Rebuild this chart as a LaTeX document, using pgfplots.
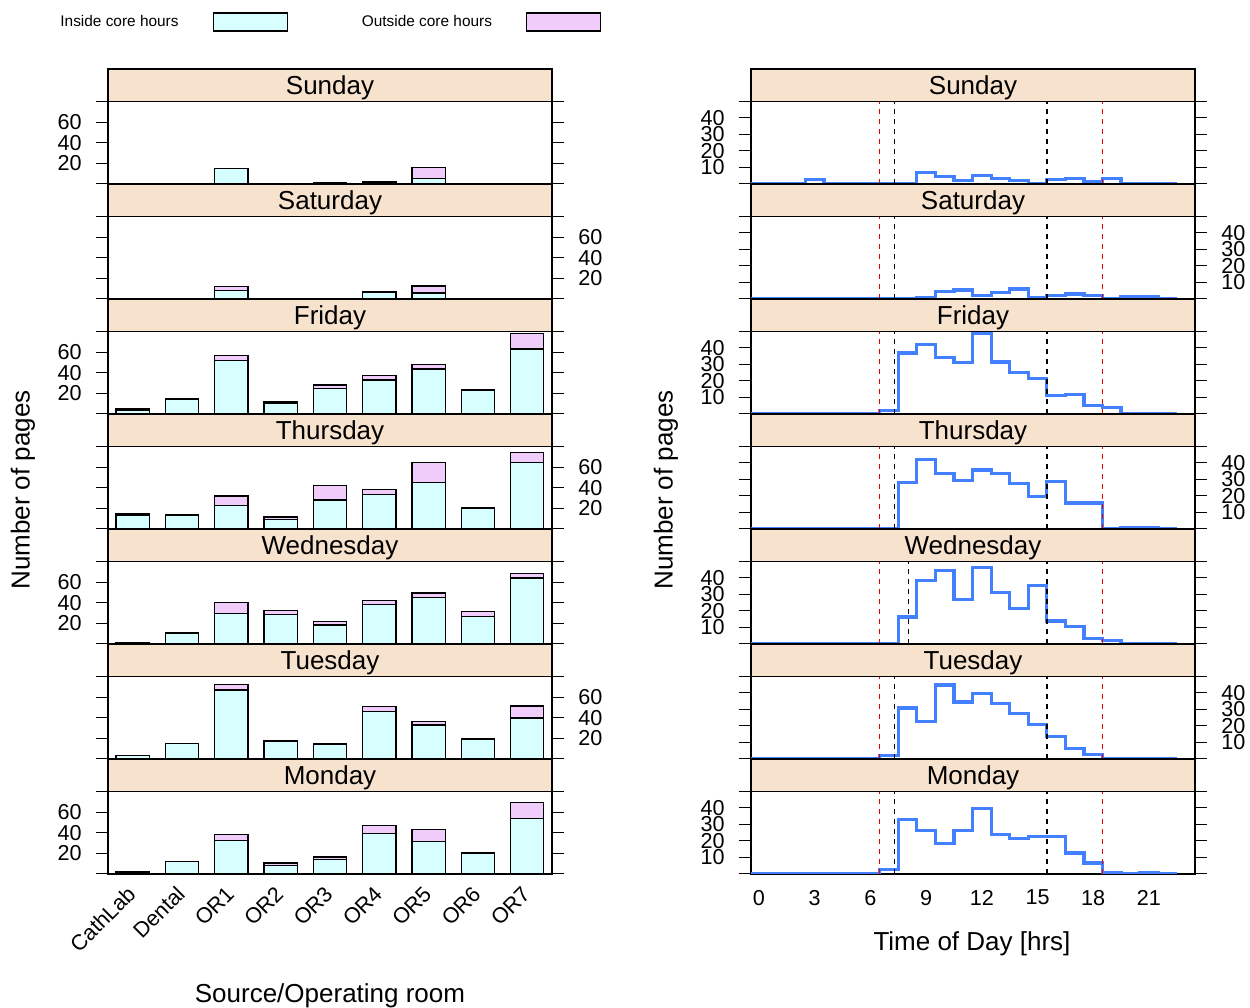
\documentclass[border=0pt]{standalone}
\usepackage{pgfplots}
\pgfplotsset{compat=1.18}
\usepackage{fontspec}
\setmainfont{Liberation Sans}
\definecolor{incol}{RGB}{215,255,255}
\definecolor{outcol}{RGB}{240,204,250}
\definecolor{stripcol}{RGB}{247,227,205}
\definecolor{lineblue}{RGB}{66,128,255}
\definecolor{vredcol}{RGB}{235,0,0}
\newcommand\tickfont{\fontsize{10.8}{12}\selectfont}
\newcommand\stripfont{\fontsize{13}{15}\selectfont}
\pgfplotsset{
 panel/.style={scale only axis, width=222pt, height=41.25pt, anchor=south west,
   axis line style={line width=0.7pt},
   every tick/.style={black, line width=0.5pt},
   tick align=outside, major tick length=6pt,
   xtick=\empty, ytick pos=both,
   /pgf/number format/assume math mode=true,
   tick label style={font=\tickfont},
   yticklabel style={inner xsep=7pt, inner ysep=0pt}},
 leftp/.style={panel, xmin=0.5, xmax=9.5, ymin=0, ymax=80,
   ytick={0,20,40,60,80}, yticklabels={{},20,40,60,{}}, ybar stacked, bar width=0.67},
 rightp/.style={panel, xmin=-0.43, xmax=23.48, ymin=0, ymax=50,
   ytick={0,10,20,30,40,50}, yticklabels={{},10,20,30,40,{}}},
 inbar/.style={fill=incol, draw=black, line width=0.65pt},
 outbar/.style={fill=outcol, draw=black, line width=0.65pt},
 stepl/.style={const plot mark left, mark=none, color=lineblue, line width=1.6pt},
 vred/.style={color=vredcol, dash pattern=on 2.5pt off 2.5pt, line width=0.8pt},
 vblk/.style={color=black, dash pattern=on 2.5pt off 2.5pt, line width=0.8pt},
 legimg/.style={legend image code/.code={\draw[##1,/tikz/.cd] (0pt,-4.5pt) rectangle (37pt,4.5pt);}},
}
\newcommand\strip[3]{% x, bottom y, text
  \draw[fill=stripcol, line width=0.7pt] (#1pt,#2pt) rectangle ++(222pt,16.25pt);
  \node[font=\stripfont, inner sep=0pt] at ([shift={(111pt,7.1pt)}]#1pt,#2pt) {#3};}
\begin{document}
\begin{tikzpicture}
\useasboundingbox (0,0) rectangle (625pt,504pt);
% ================= LEFT: bars =================
% Sunday
\begin{axis}[leftp, at={(54pt,412pt)}, yticklabel pos=left,
  legend style={at={(axis description cs:-0.108,1.964)}, anchor=west, draw=none, fill=none,
    legend columns=2, font=\fontsize{7.7}{9}\selectfont, inner sep=0pt,
    nodes={inner sep=0pt},
    /tikz/every odd column/.append style={column sep=17pt},
    /tikz/every even column/.append style={column sep=37pt}},
  legend plot pos=right]
\addplot[inbar, legimg] coordinates {(1,0) (2,0) (3,15) (4,0) (5,0.7) (6,1.3) (7,5.5) (8,0) (9,0)};
\addlegendentry{Inside core hours}
\addplot[outbar, legimg] coordinates {(1,0) (2,0) (3,0) (4,0) (5,0.6) (6,1) (7,10.5) (8,0) (9,0)};
\addlegendentry{Outside core hours}
\end{axis}
% Saturday
\begin{axis}[leftp, at={(54pt,354.5pt)}, yticklabel pos=right]
\addplot[inbar] coordinates {(1,0) (2,0) (3,8) (4,0) (5,0) (6,6.8) (7,5.9) (8,0) (9,0)};
\addplot[outbar] coordinates {(1,0) (2,0) (3,4) (4,0) (5,0) (6,0) (7,6.8) (8,0) (9,0)};
\end{axis}
% Friday
\begin{axis}[leftp, at={(54pt,297pt)}, yticklabel pos=left]
\addplot[inbar] coordinates {(1,4) (2,14.5) (3,52) (4,10.5) (5,24.5) (6,33) (7,43.5) (8,22.5) (9,63)};
\addplot[outbar] coordinates {(1,1.5) (2,0) (3,4.5) (4,1) (5,3.5) (6,4) (7,4.5) (8,1) (9,15)};
\end{axis}
% Thursday
\begin{axis}[leftp, at={(54pt,239.5pt)}, yticklabel pos=right]
\addplot[inbar] coordinates {(1,13.5) (2,13.7) (3,23) (4,9.5) (5,28) (6,33.5) (7,45) (8,20) (9,64.5)};
\addplot[outbar] coordinates {(1,1.2) (2,0) (3,9) (4,2) (5,14) (6,4.5) (7,19.5) (8,1) (9,10)};
\end{axis}
% Wednesday
\begin{axis}[leftp, at={(54pt,182pt)}, yticklabel pos=left]
\addplot[inbar] coordinates {(1,1) (2,10.7) (3,29.5) (4,28.3) (5,18.5) (6,38.5) (7,45) (8,26.7) (9,64)};
\addplot[outbar] coordinates {(1,0.6) (2,0) (3,11) (4,4) (5,3.5) (6,4) (7,4.5) (8,4.5) (9,4.5)};
\end{axis}
% Tuesday
\begin{axis}[leftp, at={(54pt,124.5pt)}, yticklabel pos=right]
\addplot[inbar] coordinates {(1,3.5) (2,15) (3,67) (4,16.8) (5,14.6) (6,46) (7,33) (8,19.5) (9,39.7)};
\addplot[outbar] coordinates {(1,0) (2,0) (3,5) (4,1) (5,0) (6,5) (7,3.3) (8,0) (9,11.7)};
\end{axis}
% Monday
\begin{axis}[leftp, at={(54pt,67pt)}, yticklabel pos=left,
  xtick={1,2,3,4,5,6,7,8,9},
  xticklabels={CathLab,Dental,OR1,OR2,OR3,OR4,OR5,OR6,OR7},
  xtick style={draw=none},
  xticklabel style={xshift=-0.5pt, yshift=-2pt, rotate=45, anchor=east, inner sep=0pt}]
\addplot[inbar] coordinates {(1,1.2) (2,12.4) (3,32.5) (4,8) (5,14.3) (6,39.3) (7,31.5) (8,20) (9,53.7)};
\addplot[outbar] coordinates {(1,1) (2,0) (3,6) (4,2.7) (5,2.3) (6,8) (7,11.5) (8,0.5) (9,15.6)};
\end{axis}
% ================= RIGHT: time of day =================
% Sunday
\begin{axis}[rightp, at={(375.5pt,412pt)}, yticklabel pos=left]
\addplot[stepl] coordinates {(-0.5,0) (0.5,0) (1.5,0) (2.5,2.5) (3.5,0) (4.5,0) (5.5,0) (6.5,0) (7.5,0) (8.5,7) (9.5,4.5) (10.5,2) (11.5,5) (12.5,3.5) (13.5,2) (14.5,0.5) (15.5,2.5) (16.5,3.5) (17.5,1.5) (18.5,3.5) (19.5,0) (20.5,0) (21.5,0) (22.5,0)};
\addplot[vblk] coordinates {(7.3,0) (7.3,50)};
\addplot[vblk] coordinates {(15.5,0) (15.5,50)};
\addplot[vred] coordinates {(6.5,0) (6.5,50)};
\addplot[vred] coordinates {(18.5,0) (18.5,50)};
\end{axis}
% Saturday
\begin{axis}[rightp, at={(375.5pt,354.5pt)}, yticklabel pos=right]
\addplot[stepl] coordinates {(-0.5,0) (0.5,0) (1.5,0) (2.5,0) (3.5,0) (4.5,0) (5.5,0) (6.5,0) (7.5,0) (8.5,1) (9.5,4.5) (10.5,5.5) (11.5,2) (12.5,4) (13.5,6) (14.5,1) (15.5,2) (16.5,3) (17.5,2) (18.5,0) (19.5,1.2) (20.5,1.2) (21.5,0) (22.5,0)};
\addplot[vblk] coordinates {(7.3,0) (7.3,50)};
\addplot[vblk] coordinates {(15.5,0) (15.5,50)};
\addplot[vred] coordinates {(6.5,0) (6.5,50)};
\addplot[vred] coordinates {(18.5,0) (18.5,50)};
\end{axis}
% Friday
\begin{axis}[rightp, at={(375.5pt,297pt)}, yticklabel pos=left]
\addplot[stepl] coordinates {(-0.5,0) (0.5,0) (1.5,0) (2.5,0) (3.5,0) (4.5,0) (5.5,0) (6.5,2) (7.5,37) (8.5,42) (9.5,34) (10.5,31) (11.5,49) (12.5,31.5) (13.5,25) (14.5,21.7) (15.5,11) (16.5,12) (17.5,5) (18.5,4) (19.5,0) (20.5,0) (21.5,0) (22.5,0)};
\addplot[vblk] coordinates {(7.3,0) (7.3,50)};
\addplot[vblk] coordinates {(15.5,0) (15.5,50)};
\addplot[vred] coordinates {(6.5,0) (6.5,50)};
\addplot[vred] coordinates {(18.5,0) (18.5,50)};
\end{axis}
% Thursday
\begin{axis}[rightp, at={(375.5pt,239.5pt)}, yticklabel pos=right]
\addplot[stepl] coordinates {(-0.5,0) (0.5,0) (1.5,0) (2.5,0) (3.5,0) (4.5,0) (5.5,0) (6.5,0) (7.5,28) (8.5,42) (9.5,33.7) (10.5,29.5) (11.5,35.8) (12.5,33.7) (13.5,27.8) (14.5,19.8) (15.5,28.8) (16.5,15.7) (17.5,15.7) (18.5,0) (19.5,1) (20.5,1) (21.5,0) (22.5,0)};
\addplot[vblk] coordinates {(7.3,0) (7.3,50)};
\addplot[vblk] coordinates {(15.5,0) (15.5,50)};
\addplot[vred] coordinates {(6.5,0) (6.5,50)};
\addplot[vred] coordinates {(18.5,0) (18.5,50)};
\end{axis}
% Wednesday
\begin{axis}[rightp, at={(375.5pt,182pt)}, yticklabel pos=left]
\addplot[stepl] coordinates {(-0.5,0) (0.5,0) (1.5,0) (2.5,0) (3.5,0) (4.5,0) (5.5,0) (6.5,0) (7.5,16.4) (8.5,38.7) (9.5,44.6) (10.5,27.2) (11.5,46.4) (12.5,31.3) (13.5,21.3) (14.5,35.6) (15.5,13.9) (16.5,10.8) (17.5,3.5) (18.5,2) (19.5,0) (20.5,0) (21.5,0) (22.5,0)};
\addplot[vblk] coordinates {(8.05,0) (8.05,50)};
\addplot[vblk] coordinates {(15.5,0) (15.5,50)};
\addplot[vred] coordinates {(6.5,0) (6.5,50)};
\addplot[vred] coordinates {(18.5,0) (18.5,50)};
\end{axis}
% Tuesday
\begin{axis}[rightp, at={(375.5pt,124.5pt)}, yticklabel pos=right]
\addplot[stepl] coordinates {(-0.5,0) (0.5,0) (1.5,0) (2.5,0) (3.5,0) (4.5,0) (5.5,0) (6.5,2.2) (7.5,30.9) (8.5,22.7) (9.5,44.8) (10.5,34.6) (11.5,39.5) (12.5,33.5) (13.5,27.6) (14.5,20.7) (15.5,13.7) (16.5,6.3) (17.5,2.5) (18.5,0) (19.5,0) (20.5,0) (21.5,0) (22.5,0)};
\addplot[vblk] coordinates {(7.3,0) (7.3,50)};
\addplot[vblk] coordinates {(15.5,0) (15.5,50)};
\addplot[vred] coordinates {(6.5,0) (6.5,50)};
\addplot[vred] coordinates {(18.5,0) (18.5,50)};
\end{axis}
% Monday
\begin{axis}[rightp, at={(375.5pt,67pt)}, yticklabel pos=left,
  xtick={0,3,6,9,12,15,18,21}, xtick style={draw=none},
  xticklabel style={yshift=1.5pt}]
\addplot[stepl] coordinates {(-0.5,0) (0.5,0) (1.5,0) (2.5,0) (3.5,0) (4.5,0) (5.5,0) (6.5,2.5) (7.5,33) (8.5,26.6) (9.5,18.4) (10.5,26.6) (11.5,39.9) (12.5,23.7) (13.5,21.7) (14.5,22.7) (15.5,22.7) (16.5,12.7) (17.5,6.7) (18.5,1) (19.5,0) (20.5,1) (21.5,0) (22.5,0)};
\addplot[vblk] coordinates {(7.3,0) (7.3,50)};
\addplot[vblk] coordinates {(15.5,0) (15.5,50)};
\addplot[vred] coordinates {(6.5,0) (6.5,50)};
\addplot[vred] coordinates {(18.5,0) (18.5,50)};
\end{axis}
% ================= strips =================
\strip{54}{453.25}{Sunday}
\strip{54}{395.75}{Saturday}
\strip{54}{338.25}{Friday}
\strip{54}{280.75}{Thursday}
\strip{54}{223.25}{Wednesday}
\strip{54}{165.75}{Tuesday}
\strip{54}{108.25}{Monday}
\strip{375.5}{453.25}{Sunday}
\strip{375.5}{395.75}{Saturday}
\strip{375.5}{338.25}{Friday}
\strip{375.5}{280.75}{Thursday}
\strip{375.5}{223.25}{Wednesday}
\strip{375.5}{165.75}{Tuesday}
\strip{375.5}{108.25}{Monday}
% ================= axis titles =================
\node[font=\stripfont, rotate=90] at (11.5pt,259pt) {Number of pages};
\node[font=\stripfont, rotate=90] at (333pt,259pt) {Number of pages};
\node[font=\stripfont] at (165pt,6pt) {Source/Operating room};
\node[font=\stripfont] at (486pt,32pt) {Time of Day [hrs]};
\end{tikzpicture}
\end{document}
